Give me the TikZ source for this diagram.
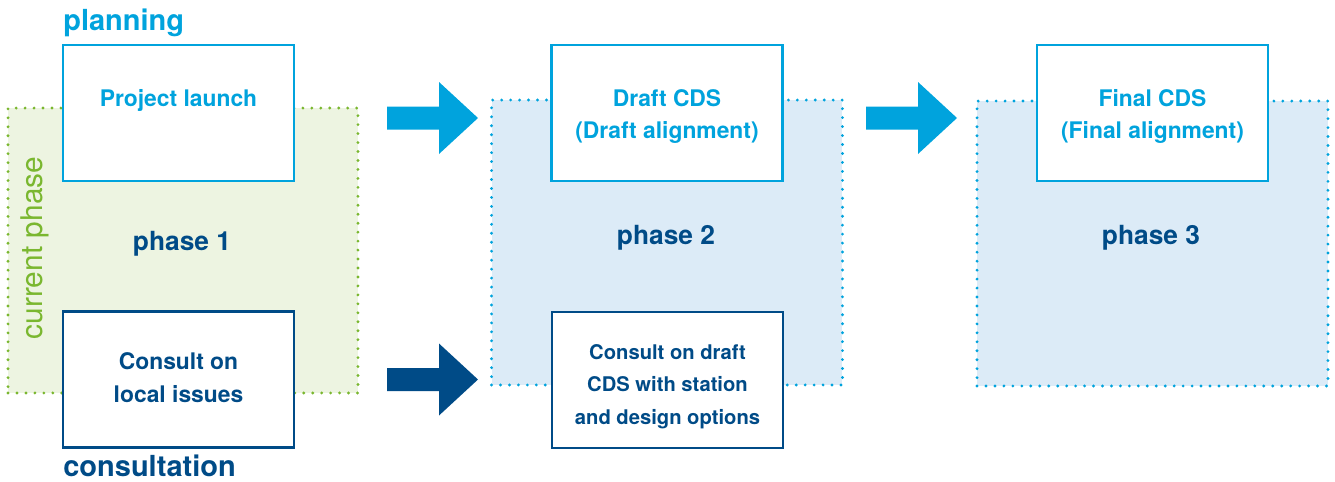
\documentclass[tikz,border=0pt]{standalone}
\usepackage{fontspec}
\setmainfont{TeX Gyre Heros}
\usetikzlibrary{positioning}

\definecolor{planblue}{HTML}{00A3DD}
\definecolor{consultblue}{HTML}{004B87}
\definecolor{phasegreen}{HTML}{7AB72F}
\definecolor{greenfill}{HTML}{EDF4E1}
\definecolor{bluefill}{HTML}{DCEBF7}

% strut that pushes the first line of a box down
\newcommand{\firststrut}[1]{\rule{0pt}{#1}}

\tikzset{
  stagebox/.style={draw, line width=1.2pt, fill=white, inner sep=0pt,
    minimum width=4.62cm, minimum height=2.72cm, align=center,
    font=\bfseries\fontsize{13}{18.4}\selectfont},
  planbox/.style={stagebox, draw=planblue, text=planblue},
  consultbox/.style={stagebox, draw=consultblue, text=consultblue},
  phasearea/.style={line width=1.8pt, line cap=round,
    dash pattern=on 0pt off 5.1pt, minimum width=7.02cm,
    minimum height=5.7cm, inner sep=0pt},
  phaselabel/.style={text=consultblue,
    font=\bfseries\fontsize{15}{18}\selectfont},
  rowlabel/.style={anchor=base west, inner sep=0pt,
    font=\bfseries\fontsize{16.5}{20}\selectfont},
  pics/blockarrow/.style={code={
    \fill (0,-11.5) -- (52,-11.5) -- (52,-36) -- (91,0) -- (52,36)
      -- (52,11.5) -- (0,11.5) -- cycle;}}
}

\begin{document}
\begin{tikzpicture}[x=0.02cm, y=-0.02cm]
  \useasboundingbox (0,0) rectangle (1335,481);

  % Phase areas
  \node [phasearea, draw=phasegreen, fill=greenfill, minimum width=7cm]
    (phase1) at (183,250.5) {};
  \node [phasearea, draw=planblue, fill=bluefill] (phase2) at (667,242.5) {};
  \node [phasearea, draw=planblue, fill=bluefill] (phase3) at (1152.5,243.5) {};

  \node [phaselabel] (p1label) at (182,244) {phase 1};
  \node [phaselabel] (p2label) at (666,238) {phase 2};
  \node [phaselabel] (p3label) at (1151,238) {phase 3};

  \node [rotate=90, anchor=base, inner sep=0pt, text=phasegreen,
    font=\fontsize{17}{20}\selectfont] (current) at (42,248) {current phase};

  % Planning row
  \node [planbox] (launch) at (178.5,113) {\firststrut{10.5pt}Project launch\\~};
  \node [planbox] (draft) at (667,113)
    {\firststrut{14pt}Draft CDS\\(Draft alignment)};
  \node [planbox] (final) at (1152.5,113)
    {\firststrut{14pt}Final CDS\\(Final alignment)};

  % Consultation row
  \node [consultbox] (local) at (178.5,379.5)
    {Consult on\\local issues\rule[-2.3pt]{0pt}{0pt}};
  \node [consultbox, font=\bfseries\fontsize{11.5}{18.4}\selectfont]
    (options) at (667.5,380)
    {\firststrut{15.8pt}Consult on draft\\CDS with station\\and design options};

  % Row titles
  \node [rowlabel, text=planblue] (planning) at (63,30) {planning};
  \node [rowlabel, text=consultblue] (consultation) at (63,476) {consultation};

  % Arrows
  \pic [color=planblue] at (387,118) {blockarrow};
  \pic [color=planblue] at (866,118) {blockarrow};
  \pic [color=consultblue] at (387,379.5) {blockarrow};
\end{tikzpicture}
\end{document}
